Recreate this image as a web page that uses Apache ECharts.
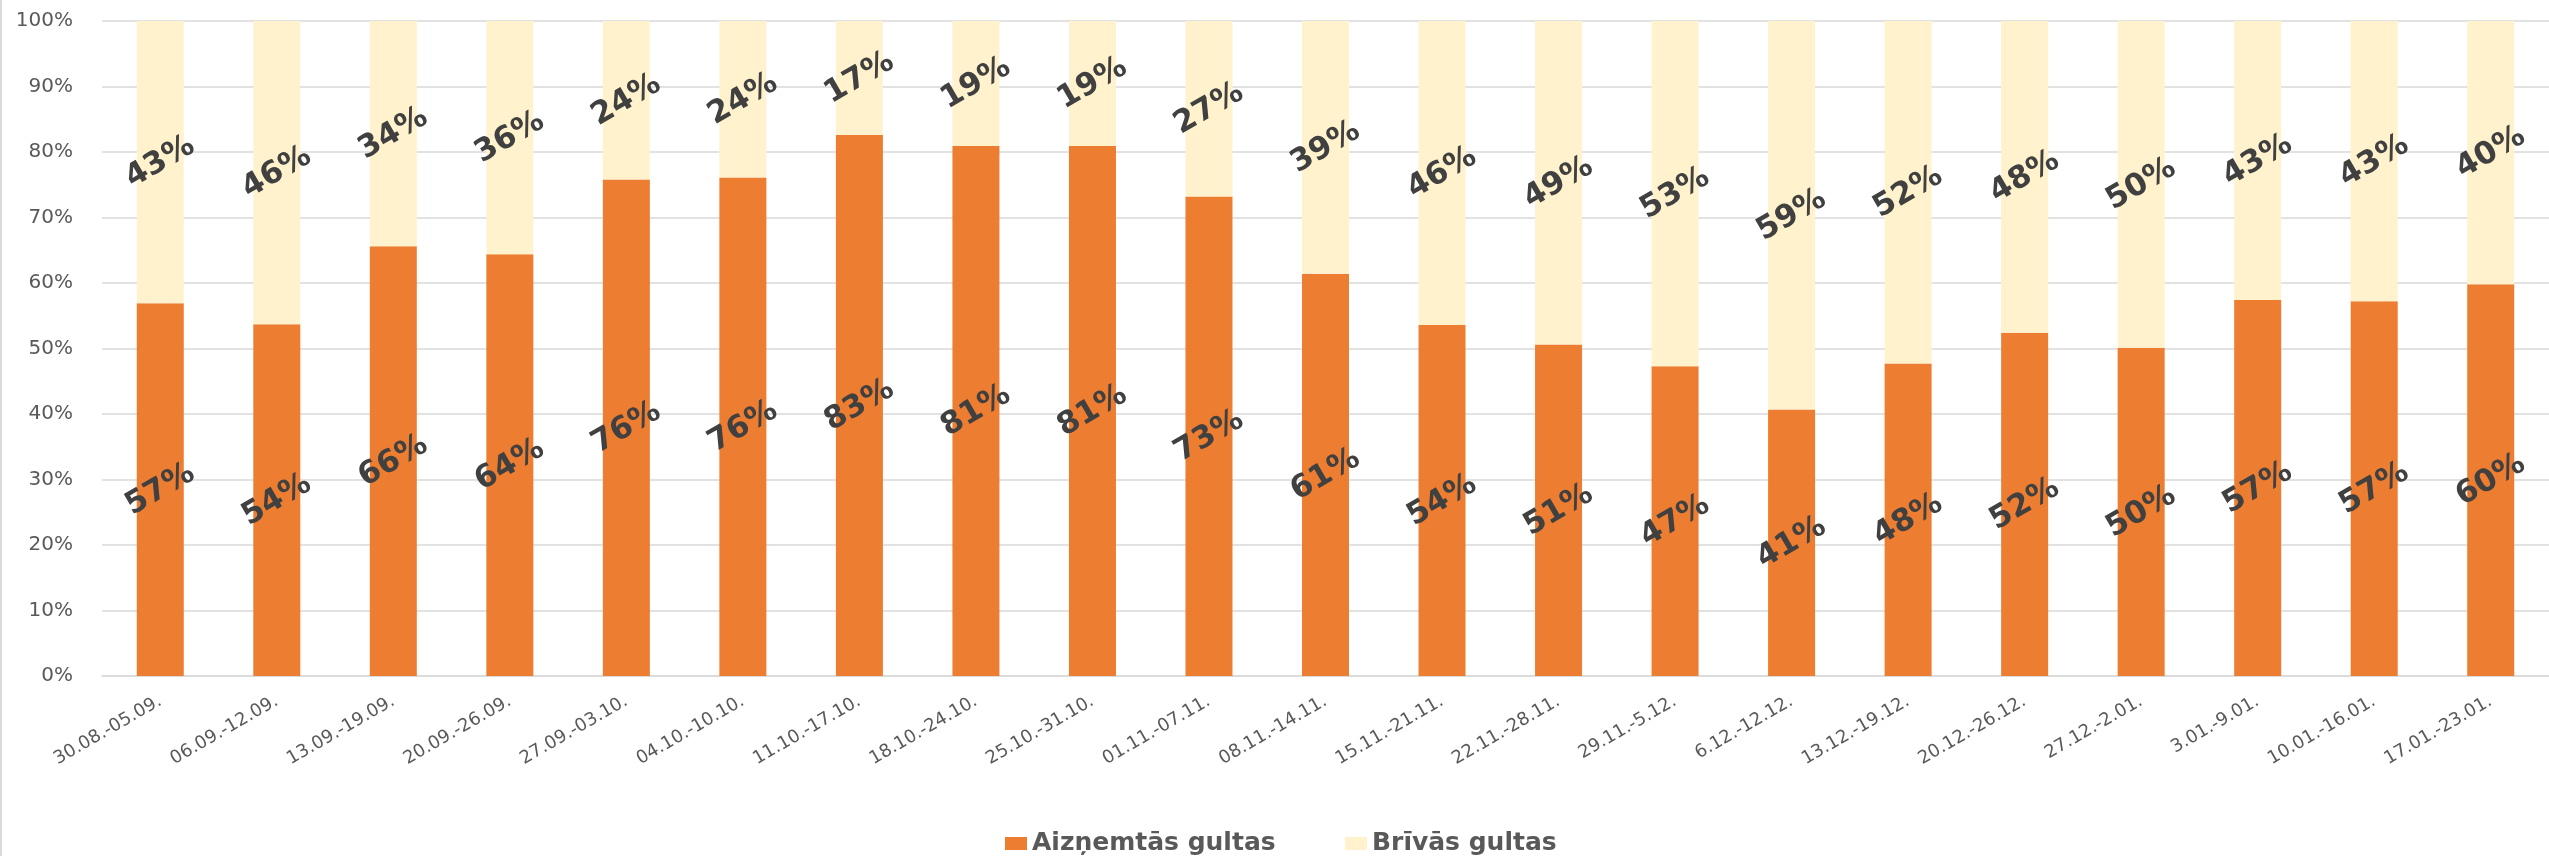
<!DOCTYPE html>
<html>
<head>
<meta charset="utf-8">
<script src="https://cdn.jsdelivr.net/npm/echarts@6/dist/echarts.min.js"></script>
<style>
html,body{margin:0;padding:0;background:#fff;}
#chart{width:2549px;height:856px;}
</style>
</head>
<body>
<div id="chart"></div>
<script>
const categories = ["30.08.-05.09.","06.09.-12.09.","13.09.-19.09.","20.09.-26.09.","27.09.-03.10.","04.10.-10.10.","11.10.-17.10.","18.10.-24.10.","25.10.-31.10.","01.11.-07.11.","08.11.-14.11.","15.11.-21.11.","22.11.-28.11.","29.11.-5.12.","6.12.-12.12.","13.12.-19.12.","20.12.-26.12.","27.12.-2.01.","3.01.-9.01.","10.01.-16.01.","17.01.-23.01."];
const occupied = [56.9,53.7,65.6,64.4,75.8,76.1,82.6,80.9,80.9,73.2,61.4,53.6,50.6,47.3,40.7,47.7,52.4,50.1,57.4,57.2,59.8];
const free = [43.1,46.3,34.4,35.6,24.2,23.9,17.4,19.1,19.1,26.8,38.6,46.4,49.4,52.7,59.3,52.3,47.6,49.9,42.6,42.8,40.2];
const seriesNames = ["Aizņemtās gultas","Brīvās gultas"];

const chart = echarts.init(document.getElementById('chart'), null, {renderer:'canvas'});
const dataLabel = {
  show: true,
  position: 'inside',
  rotate: 30,
  color: '#404040',
  fontFamily: 'DejaVu Sans',
  fontWeight: 'bold',
  fontSize: 31,
  formatter: p => Math.round(p.value) + '%'
};
const legendText = {color: '#595959', fontFamily: 'DejaVu Sans', fontWeight: 'bold', fontSize: 25};
chart.setOption({
  animation: false,
  backgroundColor: '#ffffff',
  grid: {left: 102, right: -10, top: 21, bottom: 180, containLabel: false},
  legend: [
    {left: 1000, top: 826, itemWidth: 22, itemHeight: 13, icon: 'rect', textStyle: legendText, data: [seriesNames[0]]},
    {left: 1340, top: 826, itemWidth: 22, itemHeight: 13, icon: 'rect', textStyle: legendText, data: [seriesNames[1]]}
  ],
  xAxis: {
    type: 'category',
    data: categories,
    axisLine: {lineStyle: {color: '#D9D9D9', width: 1.5}},
    axisTick: {show: false},
    axisLabel: {rotate: 30, margin: 24, color: '#595959', fontFamily: 'DejaVu Sans', fontSize: 18, interval: 0}
  },
  yAxis: {
    type: 'value', min: 0, max: 100, interval: 10,
    axisLine: {show: false}, axisTick: {show: false},
    splitLine: {lineStyle: {color: '#D9D9D9', width: 1.5}},
    axisLabel: {formatter: '{value}%', margin: 29, color: '#595959', fontFamily: 'DejaVu Sans', fontSize: 20}
  },
  series: [
    {name: seriesNames[0], type: 'bar', stack: 'a', data: occupied, barWidth: 47,
     itemStyle: {color: '#ED7D31'}, label: dataLabel},
    {name: seriesNames[1], type: 'bar', stack: 'a', data: free, barWidth: 47,
     itemStyle: {color: '#FFF2CC'}, label: dataLabel}
  ],
  graphic: [{type: 'line', shape: {x1: 1, y1: 0, x2: 1, y2: 856}, style: {stroke: '#D9D9D9', lineWidth: 2}, silent: true}]
});
</script>
</body>
</html>
